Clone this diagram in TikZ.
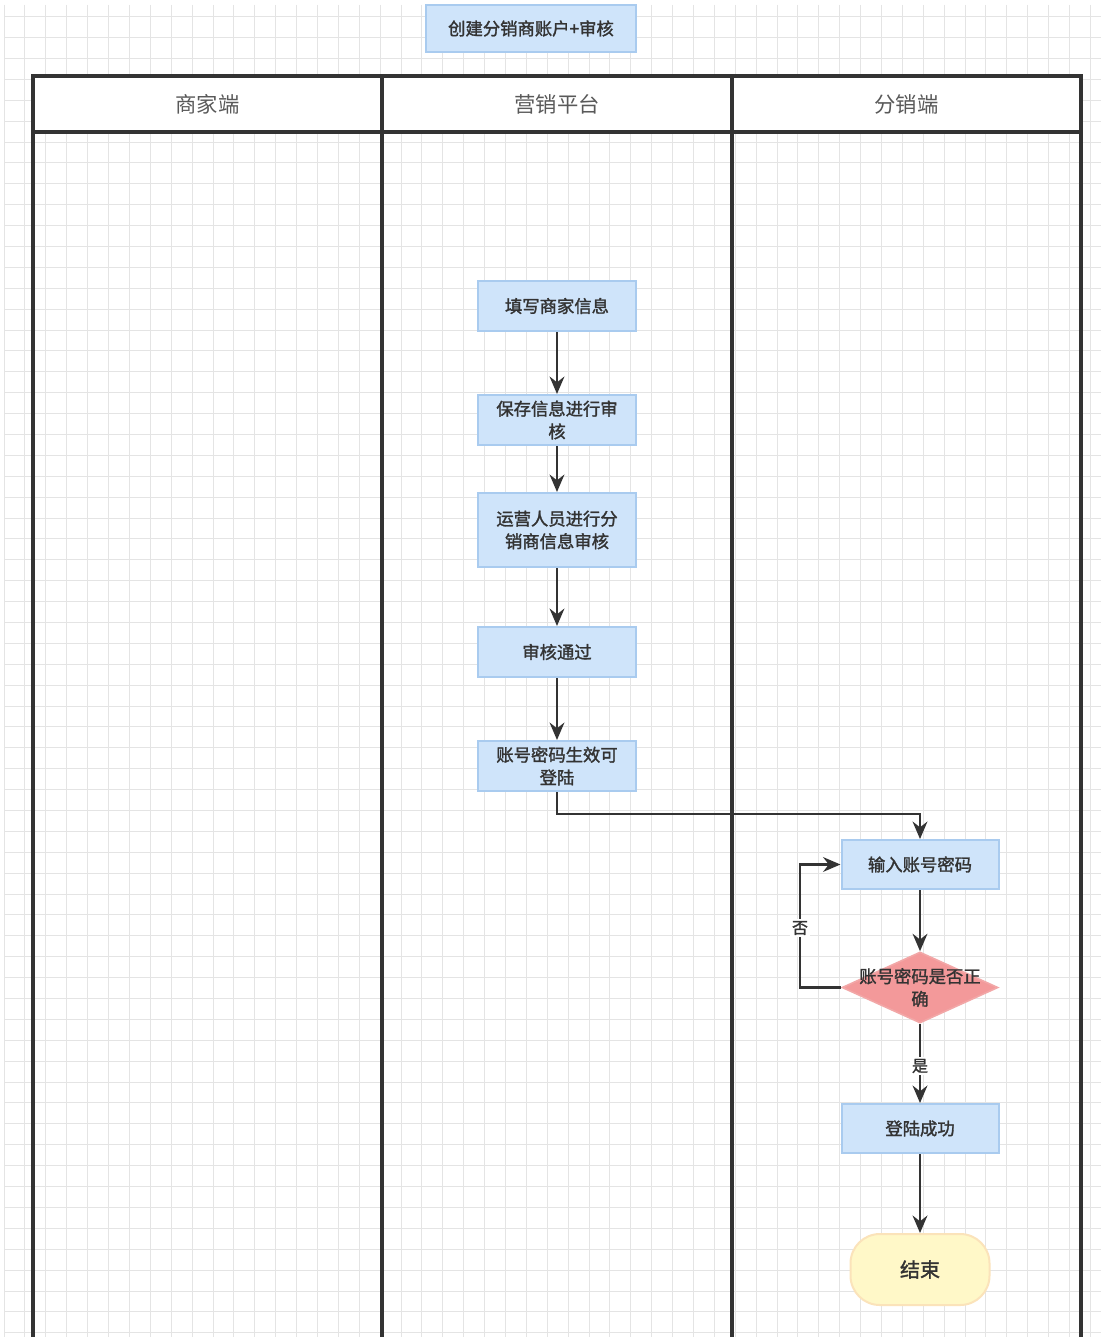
\documentclass[tikz,border=0pt]{standalone}
\usepackage{fontspec}
\setmainfont{Noto Sans CJK SC}
\newfontfamily\boldcjk[FakeBold=1.6]{Noto Sans CJK SC}
\usetikzlibrary{shapes.geometric,arrows.meta}
\definecolor{boxfill}{HTML}{CFE4FA}
\definecolor{boxline}{HTML}{A9CBEF}
\definecolor{diafill}{HTML}{F3999A}
\definecolor{dialine}{HTML}{F2A7A7}
\definecolor{endfill}{HTML}{FFF8C8}
\definecolor{endline}{HTML}{FBE3BA}
\definecolor{ink}{HTML}{333333}
\definecolor{gridc}{HTML}{E4E4E4}
\tikzset{
  boxtxt/.style={font=\boldcjk\fontsize{13}{17}\selectfont, text=ink, align=center},
  procbox/.style={boxtxt, draw=boxline, fill=boxfill, line width=1.5pt, minimum width=158*0.75pt, minimum height=50*0.75pt, inner sep=0pt},
  dia/.style={diamond, draw=dialine, fill=diafill, line width=1.2pt, minimum width=156*0.75pt, minimum height=71*0.75pt, inner sep=0pt},
  endbox/.style={draw=endline, fill=endfill, line width=1.5pt, rounded corners=22pt, minimum width=139*0.75pt, minimum height=71*0.75pt, font=\boldcjk\fontsize{15}{18}\selectfont, text=ink},
  header/.style={font=\fontsize{16}{20}\selectfont, text=black!65},
  lanes/.style={draw=ink, line width=2.3pt},
  conn/.style={draw=ink, line width=2.1pt, -{Stealth[length=13pt,width=11pt]}},
  lbl/.style={fill=white, inner sep=1.5pt, font=\boldcjk\fontsize{12}{14}\selectfont, text=ink},
}
\begin{document}
\begin{tikzpicture}[x=0.75pt,y=-0.75pt]
\useasboundingbox (0,0) rectangle (1101,1337);
\fill[white] (0,0) rectangle (1101,1337);
% grid
\begin{scope}
\clip (4,5) rectangle (1101,1337);
\foreach \k in {0,...,52} {\draw[gridc, line width=0.75pt] ({4.1+20.89*\k},5) -- ({4.1+20.89*\k},1337);}
\foreach \k in {0,...,63} {\draw[gridc, line width=0.75pt] (4,{16.7+20.89*\k}) -- (1101,{16.7+20.89*\k});}
\end{scope}
% title
\node[procbox, minimum width=210*0.75pt, minimum height=47*0.75pt] (title) at (531,28.5) {创建分销商账户+审核};
% swimlanes
\fill[white] (33,76) rectangle (1081,132);
\draw[lanes] (33,1345) -- (33,76) -- (1081,76) -- (1081,1345);
\draw[lanes] (33,132) -- (1081,132);
\draw[lanes] (382,76) -- (382,1345);
\draw[lanes] (732,76) -- (732,1345);
\node[header] (h1) at (207.5,104) {商家端};
\node[header] (h2) at (557,104) {营销平台};
\node[header] (h3) at (906.5,104) {分销端};
% middle lane
\node[procbox] (n1) at (557,306) {填写商家信息};
\node[procbox] (n2) at (557,420) {保存信息进行审\\核};
\node[procbox, minimum height=74*0.75pt] (n3) at (557,530) {运营人员进行分\\销商信息审核};
\node[procbox] (n4) at (557,652) {审核通过};
\node[procbox] (n5) at (557,766) {账号密码生效可\\登陆};
% right lane
\node[procbox, minimum width=157*0.75pt, minimum height=49*0.75pt] (n6) at (920,864.5) {输入账号密码};
\node[dia] (d) at (920,987.5) {};
\node[boxtxt] (dt) at (d) {账号密码是否正\\确};
\node[procbox, minimum width=157*0.75pt, minimum height=49*0.75pt] (ok) at (920,1128.5) {登陆成功};
\node[endbox] (end) at (920,1269.5) {结束};
% connectors
\coordinate (j1) at (557,814);
\coordinate (j2) at (800,987.5);
\draw[conn] (n1) -- (n2);
\draw[conn] (n2) -- (n3);
\draw[conn] (n3) -- (n4);
\draw[conn] (n4) -- (n5);
\draw[conn] (n5.south) -- (j1) -| (n6.north);
\draw[conn] (n6) -- (d);
\draw[conn] (d.west) -- (j2) |- (n6.west);
\draw[conn] (d.south) -- (ok.north);
\draw[conn] (ok) -- (end);
\node[lbl] (no) at (800,928) {否};
\node[lbl] (yes) at (920,1066) {是};
\end{tikzpicture}
\end{document}
